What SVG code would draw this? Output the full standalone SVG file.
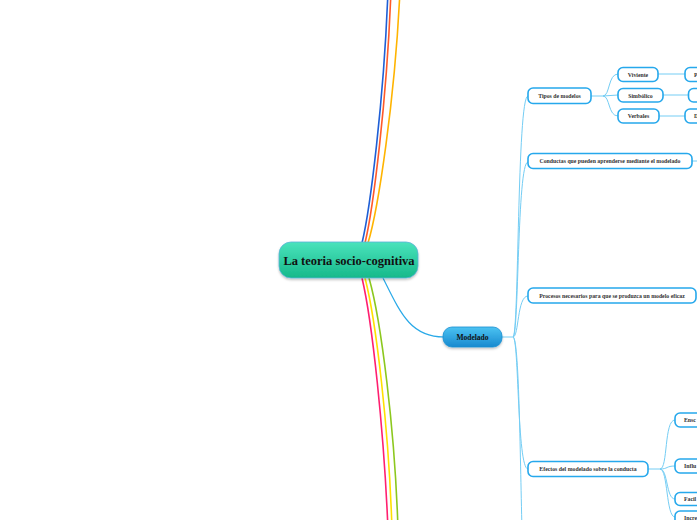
<svg xmlns="http://www.w3.org/2000/svg" width="697" height="520" viewBox="0 0 697 520">
<defs>
<linearGradient id="gCenter" x1="0" y1="0" x2="0" y2="1">
<stop offset="0" stop-color="#4ae3bc"/>
<stop offset="1" stop-color="#16b98a"/>
</linearGradient>
<linearGradient id="gMod" x1="0" y1="0" x2="0" y2="1">
<stop offset="0" stop-color="#4cc3f2"/>
<stop offset="1" stop-color="#1789cf"/>
</linearGradient>
<filter id="sh" x="-10%" y="-20%" width="120%" height="160%">
<feDropShadow dx="0" dy="1.5" stdDeviation="1.2" flood-color="#000" flood-opacity="0.25"/>
</filter>
</defs>
<style>
.conn{fill:none;stroke:#74cdf4;stroke-width:1}
.box{fill:#fff;stroke:#26a8ec;stroke-width:1.6}
.t{font-family:"Liberation Serif",serif;font-weight:bold;fill:#333;font-size:5.8px;text-anchor:middle;dominant-baseline:central}
.tl{font-family:"Liberation Serif",serif;font-weight:bold;fill:#333;font-size:5.8px;dominant-baseline:central}
</style>
<rect width="697" height="520" fill="#fff"/>
<g id="connectors">
<path d="M362,243 C370,210 384,100 388,-10" fill="none" stroke="#1f5fd6" stroke-width="1.6"/>
<path d="M365,243 C373,210 387,100 391,-10" fill="none" stroke="#ff5a2a" stroke-width="1.6"/>
<path d="M368,243 C378,210 395,100 400,-10" fill="none" stroke="#ffb400" stroke-width="1.6"/>
<path d="M362,278 C372,320 384,430 388,530" fill="none" stroke="#ff1f6f" stroke-width="1.6"/>
<path d="M365,278 C376,320 389,430 392,530" fill="none" stroke="#ffe000" stroke-width="1.6"/>
<path d="M369,278 C381,320 395,430 398,530" fill="none" stroke="#8cc81e" stroke-width="1.6"/>
<path d="M383,278 C400,312 410,337 444,337" fill="none" stroke="#29a9e8" stroke-width="1.2"/>
<path class="conn" d="M502,337 L513,337"/>
<path class="conn" d="M513,337 C519,337 517,96 528,96"/>
<path class="conn" d="M513,337 C519,337 517,162 528,162"/>
<path class="conn" d="M513,337 C519,337 517,296 528,296"/>
<path class="conn" d="M513,337 C519,337 517,469 528,469"/>
<path class="conn" d="M513,337 C519,337 520,450 522,530"/>
<path class="conn" d="M591,96 L603,96"/>
<path class="conn" d="M603,96 C610,96 608,74 618,74"/>
<path class="conn" d="M603,96 L618,95"/>
<path class="conn" d="M603,96 C610,96 608,116 618,116"/>
<path class="conn" d="M658,74 L685,74"/>
<path class="conn" d="M663,95 L688,95"/>
<path class="conn" d="M659,116 L685,116"/>
<path class="conn" d="M692,161 L697,161"/>
<path class="conn" d="M648,469 L660,469"/>
<path class="conn" d="M660,469 C668,469 664,420 675,420"/>
<path class="conn" d="M660,469 C668,469 666,466 675,466"/>
<path class="conn" d="M660,469 C668,469 666,499 675,499"/>
<path class="conn" d="M660,469 C668,469 666,517 675,517"/>
</g>
<g id="center">
<rect x="279" y="242" width="139" height="36" rx="12" fill="url(#gCenter)" stroke="#5ab4d8" stroke-width="0.8" filter="url(#sh)"/>
<text x="349" y="261" font-family="Liberation Serif,serif" font-weight="bold" font-size="12.5" fill="#111" text-anchor="middle" dominant-baseline="central">La teoria socio-cognitiva</text>
</g>
<g id="modelado">
<rect x="443" y="327" width="59" height="20" rx="9" fill="url(#gMod)" stroke="#1a8fd2" stroke-width="0.8" filter="url(#sh)"/>
<text x="472.5" y="337" font-family="Liberation Serif,serif" font-weight="bold" font-size="7.5" fill="#111" text-anchor="middle" dominant-baseline="central">Modelado</text>
</g>
<g id="tipos">
<rect class="box" x="528" y="88" width="63" height="15.5" rx="5"/>
<text class="t" x="559.5" y="96">Tipos de modelos</text>
</g>
<g id="viviente">
<rect class="box" x="618" y="67.5" width="40" height="14" rx="5"/>
<text class="t" x="638" y="74.5">Viviente</text>
</g>
<g id="simbolico">
<rect class="box" x="618" y="88.5" width="45" height="13.5" rx="5"/>
<text class="t" x="640.5" y="95.5">Simbólico</text>
</g>
<g id="verbales">
<rect class="box" x="618" y="109" width="41" height="14" rx="5"/>
<text class="t" x="638.5" y="116">Verbales</text>
</g>
<g id="viviente-hijo">
<rect class="box" x="685" y="67.5" width="30" height="14" rx="5"/>
<text class="tl" x="694" y="74.5">P</text>
</g>
<g id="simbolico-hijo">
<rect class="box" x="688.5" y="88.5" width="30" height="13.5" rx="5"/>
</g>
<g id="verbales-hijo">
<rect class="box" x="685" y="109" width="30" height="14" rx="5"/>
<text class="tl" x="694" y="116">D</text>
</g>
<g id="conductas">
<rect class="box" x="528" y="153.5" width="164" height="15" rx="5"/>
<text class="t" x="610" y="161">Conductas que pueden aprenderse mediante el modelado</text>
</g>
<g id="procesos">
<rect class="box" x="528" y="288" width="168" height="15" rx="5"/>
<text class="t" x="612" y="295.5">Procesos necesarios para que se produzca un modelo eficaz</text>
</g>
<g id="efectos">
<rect class="box" x="528" y="461.5" width="120" height="15" rx="5"/>
<text class="t" x="588" y="469">Efectos del modelado sobre la conducta</text>
</g>
<g id="ensc">
<rect class="box" x="675" y="413" width="40" height="14" rx="5"/>
<text class="tl" x="684" y="420">Ensc</text>
</g>
<g id="influ">
<rect class="box" x="675" y="459" width="40" height="14" rx="5"/>
<text class="tl" x="684" y="466">Influ</text>
</g>
<g id="facil">
<rect class="box" x="675" y="492.5" width="40" height="13" rx="5"/>
<text class="tl" x="684" y="499">Facil</text>
</g>
<g id="incre">
<rect class="box" x="675" y="511" width="40" height="14" rx="5"/>
<text class="tl" x="684" y="518">Incre</text>
</g>
</svg>
